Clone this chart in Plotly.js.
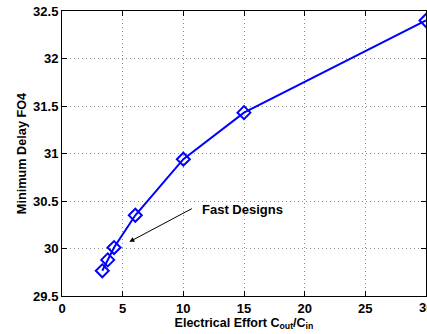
<!DOCTYPE html>
<html>
<head>
<meta charset="utf-8">
<script src="https://cdn.plot.ly/plotly-3.0.1.min.js"></script>
<style>html,body{margin:0;padding:0;background:#fff;}#chart{width:427px;height:334px;}</style>
</head>
<body>
<div id="chart"></div>
<script>
const effort = [3.32, 3.77, 4.29, 6.04, 10, 15, 30];
const minDelay = [29.765, 29.88, 30.01, 30.35, 30.94, 31.43, 32.4];
const xTicks = [0, 5, 10, 15, 20, 25, 30];
const yTicks = [29.5, 30, 30.5, 31, 31.5, 32, 32.5];
const noteText = 'Fast Designs';
const notePoint = [5.55, 30.07];

const fam = 'Liberation Sans, Arial, sans-serif';
const axisBase = {
  showline: true, linecolor: '#000', linewidth: 1, mirror: 'ticks',
  ticks: 'inside', ticklen: 5, tickcolor: '#000',
  showgrid: true, gridcolor: '#8c8c8c', griddash: '1px,3px', gridwidth: 1,
  zeroline: false, tickfont: {family: fam, size: 13, color: '#000'}
};
const trace = {
  x: effort, y: minDelay, mode: 'lines+markers', type: 'scatter',
  line: {color: '#0000ff', width: 2},
  marker: {symbol: 'diamond-open', size: 10, color: '#0000ff', line: {width: 2, color: '#0000ff'}},
  cliponaxis: false, showlegend: false
};
const lastX = xTicks[xTicks.length - 1];
const layout = {
  width: 427, height: 334,
  margin: {l: 62, r: 1, t: 11, b: 38},
  paper_bgcolor: '#fff', plot_bgcolor: '#fff',
  font: {family: fam, size: 12, color: '#000'},
  xaxis: Object.assign({}, axisBase, {
    range: [0, 30], tickvals: xTicks,
    ticktext: xTicks.map(v => v === lastX ? '' : '<b>' + v + '</b>'),
    title: {text: '<b>Electrical Effort C<sub>out</sub>/C<sub>in</sub></b>', standoff: 0,
            font: {family: fam, size: 12.5, color: '#000'}}
  }),
  yaxis: Object.assign({}, axisBase, {
    range: [29.5, 32.5], tickvals: yTicks, ticktext: yTicks.map(v => '<b>' + v + '</b>'),
    title: {text: '<b>Minimum Delay FO4</b>', standoff: 3,
            font: {family: fam, size: 12.7, color: '#000'}}
  }),
  annotations: [
    {x: notePoint[0], y: notePoint[1], xref: 'x', yref: 'y', text: '', showarrow: true,
     ax: 64, ay: -34, arrowhead: 2, arrowsize: 1, arrowwidth: 1, arrowcolor: '#000'},
    {x: notePoint[0], y: notePoint[1], xref: 'x', yref: 'y', text: '<b>' + noteText + '</b>', showarrow: false,
     xanchor: 'left', yanchor: 'middle', xshift: 71, yshift: 32,
     font: {family: fam, size: 13, color: '#000'}},
    {x: lastX, y: 0, xref: 'x', yref: 'paper', text: '<b>' + lastX + '</b>', showarrow: false,
     xanchor: 'center', yanchor: 'top', yshift: -2,
     font: {family: fam, size: 13, color: '#000'}}
  ]
};
Plotly.newPlot('chart', [trace], layout, {displayModeBar: false, staticPlot: true});
</script>
</body>
</html>
